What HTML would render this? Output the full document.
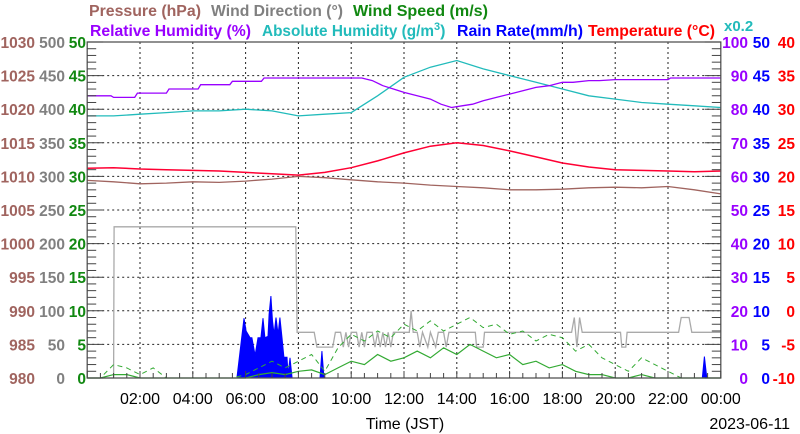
<!DOCTYPE html>
<html><head><meta charset="utf-8"><style>
html,body{margin:0;padding:0;background:#fff;}
svg{display:block;font-family:"Liberation Sans",sans-serif;}
</style></head><body>
<svg id="chart" width="800" height="434" viewBox="0 0 800 434" xmlns="http://www.w3.org/2000/svg">
<g id="grid"></g>
<g id="series"></g>
<g id="axes"></g>
<g font-weight="bold" font-size="16">
<text x="89" y="16" fill="#a0645f" textLength="112" lengthAdjust="spacingAndGlyphs">Pressure (hPa)</text>
<text x="211" y="16" fill="#808080" textLength="132" lengthAdjust="spacingAndGlyphs">Wind Direction (°)</text>
<text x="353" y="16" fill="#118811" textLength="135" lengthAdjust="spacingAndGlyphs">Wind Speed (m/s)</text>
<text x="90" y="36" fill="#9900ff" textLength="161" lengthAdjust="spacingAndGlyphs">Relative Humidity (%)</text>
<text x="262" y="36" fill="#22bbbb"><tspan textLength="172" lengthAdjust="spacingAndGlyphs">Absolute Humidity (g/m</tspan><tspan font-size="11" dy="-6">3</tspan><tspan dy="6">)</tspan></text>
<text x="457" y="36" fill="#0000ff" textLength="126" lengthAdjust="spacingAndGlyphs">Rain Rate(mm/h)</text>
<text x="588" y="36" fill="#ff0000" textLength="127" lengthAdjust="spacingAndGlyphs">Temperature (°C)</text>
<text x="724" y="31" fill="#22bbbb" font-size="15">x0.2</text>
</g>
<text x="405" y="429" font-size="16" text-anchor="middle">Time (JST)</text>
<text x="790" y="429" font-size="16" text-anchor="end">2023-06-11</text>
</svg>
<script>
const hours=[0,1,2,3,4,5,6,7,8,9,10,11,12,13,14,15,16,17,18,19,20,21,22,23,24];
const tempVals=[21.2,21.3,21.1,21.0,20.9,20.8,20.6,20.4,20.2,20.6,21.3,22.3,23.5,24.5,25.0,24.6,23.8,22.9,22.0,21.4,21.0,20.9,20.8,20.7,20.8];
const pressVals=[1009.4,1009.2,1008.9,1009.0,1009.2,1009.1,1009.3,1009.6,1010.0,1009.8,1009.5,1009.2,1009.0,1008.7,1008.5,1008.3,1008.0,1008.0,1008.1,1008.3,1008.4,1008.3,1008.5,1008.0,1007.4];
const rhTimes=[0,0.9,1.0,1.8,1.9,3.0,3.1,4.2,4.3,5.4,5.5,6.6,6.7,10.4,10.8,11.2,11.6,12.0,12.5,13.0,13.4,13.8,14.2,14.6,15.0,15.5,16.0,16.5,17.0,17.5,18.0,18.4,19.0,19.4,20.0,22.0,22.1,24];
const rhVals=[84.0,84.0,83.5,83.5,84.8,84.8,86.0,86.0,87.3,87.3,88.3,88.3,89.3,89.3,88.5,87.0,86.0,85.0,84.0,83.0,81.5,80.5,81.0,81.5,82.5,83.5,84.5,85.5,86.5,87.0,88.0,88.0,88.5,88.5,88.8,88.8,89.3,89.3];
const ahVals=[15.6,15.6,15.7,15.8,15.9,15.9,16.0,15.9,15.6,15.7,15.8,16.8,17.9,18.5,18.9,18.4,18.0,17.6,17.2,16.8,16.6,16.4,16.3,16.2,16.1];
const halfHours=[0,0.5,1,1.5,2,2.5,3,3.5,4,4.5,5,5.5,6,6.5,7,7.5,8,8.5,9,9.5,10,10.5,11,11.5,12,12.5,13,13.5,14,14.5,15,15.5,16,16.5,17,17.5,18,18.5,19,19.5,20,20.5,21,21.5,22,22.5,23,23.5,24];
const wsAvg=[0,0,0.5,0.5,0,0,0,0,0,0,0,0,0,0.5,0.8,0.5,1.0,1.2,0.5,1.5,2.5,2.0,3.5,2.5,3.0,4.0,3.0,4.5,3.5,5.0,4.0,3.0,3.5,2.0,2.5,1.5,2.0,1.0,0.5,0.5,0,0,0.5,0,0,0,0,0,0];
const wsGust=[0,0,2,1.5,0.5,1.5,0,0,0,0,0,0,0.5,1.5,2.5,1.5,2.5,3.5,1.0,4.5,6.5,5.5,7,6,8,7,8.5,7,8,9,7.5,8,6.5,7,5.5,6.5,6,4,5,3,2,1,3,2,1,0,0,0,0];
const wdTimes=[0,1.0,1.02,7.9,7.95,8.6,8.7,9.3,9.4,9.6,9.7,9.8,9.9,10.0,10.2,10.3,10.4,10.5,10.6,10.8,10.9,11.0,11.1,11.2,11.3,11.4,11.5,11.6,12.2,12.27,12.35,12.5,12.6,12.7,12.9,13.0,13.2,13.3,13.5,13.6,13.7,14.7,14.75,15.0,15.05,18.35,18.45,18.55,18.65,18.75,18.85,20.2,20.25,20.4,20.45,22.4,22.5,22.8,22.9,24];
const wdVals=[0,0,225,225,68,68,46,46,68,68,46,68,46,68,68,46,68,46,68,68,46,68,46,68,46,68,46,68,68,100,68,68,46,68,46,68,46,68,68,46,68,68,46,46,68,68,90,46,90,68,68,68,46,46,68,68,90,90,68,68];
const rainTimes=[0,5.67,5.94,6.02,6.17,6.24,6.36,6.47,6.58,6.66,6.73,6.85,6.89,6.96,7.02,7.08,7.15,7.23,7.30,7.38,7.45,7.57,7.61,7.68,7.76,8.82,8.89,8.97,23.3,23.38,23.47,24];
const rainVals=[0,0,8.9,7,6,6,3.4,6,6,8.9,6,6.2,9.5,12.2,8.5,6.5,9,6.5,9,6,3.1,3.1,0.5,3,0,0,4,0,0,3.2,0,0];
const timeLabels=["02:00","04:00","06:00","08:00","10:00","12:00","14:00","16:00","18:00","20:00","22:00","00:00"];
const pressTicks=[980,985,990,995,1000,1005,1010,1015,1020,1025,1030];
const wdTicks=[0,50,100,150,200,250,300,350,400,450,500];
const wsTicks=[0,5,10,15,20,25,30,35,40,45,50];
const rhTicks=[0,10,20,30,40,50,60,70,80,90,100];
const rainTicks=[0,5,10,15,20,25,30,35,40,45,50];
const tempTicks=[-10,-5,0,5,10,15,20,25,30,35,40];

const L=87.2,R=720.8,T=42,B=378,H=B-T;
const X=t=>L+t*(R-L)/24;
const yFrac=f=>B-f*H;
const yP=p=>yFrac((p-980)/50), yD=v=>yFrac(v/500), yS=v=>yFrac(v/50);
const yRH=v=>yFrac(v/100), yAH=v=>yRH(v/0.2), yRain=v=>yFrac(v/50), yT=v=>yFrac((v+10)/50);
const NS="http://www.w3.org/2000/svg";
function mk(tag,attrs,parent){const e=document.createElementNS(NS,tag);for(const k in attrs)e.setAttribute(k,attrs[k]);parent.appendChild(e);return e;}
const grid=document.getElementById('grid'),series=document.getElementById('series'),axes=document.getElementById('axes');

for(let i=1;i<12;i++){const x=X(i*2);
 const g=mk('line',{x1:x,x2:x,y1:T,y2:B,stroke:'#222','stroke-width':1,'stroke-dasharray':'2,3'},grid);
 
 }
for(let i=1;i<10;i++){const y=yFrac(i/10);
 const g=mk('line',{x1:L,x2:R,y1:y,y2:y,stroke:'#222','stroke-width':1,'stroke-dasharray':'2,3'},grid);
 
 }

function path(ts,vs,yf){return ts.map((t,i)=>(i?'L':'M')+X(t).toFixed(1)+','+yf(vs[i]).toFixed(1)).join('');}

const ra=mk('path',{d:path(rainTimes,rainVals,yRain)+'L'+X(24)+','+B+'L'+X(0)+','+B+'Z',fill:'#0000ff',stroke:'#0000ff','stroke-width':1},series);


const wd=mk('path',{d:path(wdTimes,wdVals,yD),fill:'none',stroke:'#aaaaaa','stroke-width':1.3},series);


const wg=mk('path',{d:path(halfHours,wsGust,yS),fill:'none',stroke:'#33aa33','stroke-width':1,'stroke-dasharray':'5,4'},series);


const wa=mk('path',{d:path(halfHours,wsAvg,yS),fill:'none',stroke:'#33aa33','stroke-width':1.2},series);


const pl=mk('path',{d:path(hours,pressVals,yP),fill:'none',stroke:'#a0645f','stroke-width':1.3},series);


const al=mk('path',{d:path(hours,ahVals,yAH),fill:'none',stroke:'#22bbbb','stroke-width':1.3},series);


const rl=mk('path',{d:path(rhTimes,rhVals,yRH),fill:'none',stroke:'#9900ff','stroke-width':1.3},series);


const tl=mk('path',{d:path(hours,tempVals,yT),fill:'none',stroke:'#ff0033','stroke-width':1.5},series);



const fr=mk('rect',{x:L,y:T,width:R-L,height:H,fill:'none',stroke:'#555','stroke-width':1.3},axes);


for(let i=0;i<=50;i++){const y=yFrac(i/50),len=i%5===0?16:9;
 const a=mk('line',{x1:L,x2:L+len,y1:y,y2:y,stroke:'#444','stroke-width':1},axes);
 
 
 const b=mk('line',{x1:R-len,x2:R,y1:y,y2:y,stroke:'#444','stroke-width':1},axes);
 
 }
for(let i=0;i<=48;i++){const x=X(i/2),len=i%4===0?7:5;
 const a=mk('line',{x1:x,x2:x,y1:B,y2:B-len,stroke:'#444','stroke-width':1},axes);
 
 }
function lbl(x,y,txt,fill,anchor,name,size,bold){
 const t=mk('text',{x:x,y:y,fill:fill,'text-anchor':anchor,'font-size':size,'font-weight':bold?'bold':'normal'},axes);
 t.textContent=txt;
 
 }
for(let i=0;i<=10;i++){const y=yFrac(i/10)+6;
 lbl(35,y,String(pressTicks[i]),'#a0645f','end','pressure-tick-label',15.5,true);
 lbl(65,y,String(wdTicks[i]),'#808080','end','wind-direction-tick-label',15.5,true);
 lbl(86,y,String(wsTicks[i]),'#118811','end','wind-speed-tick-label',15.5,true);
 lbl(748,y,String(rhTicks[i]),'#9900ff','end','humidity-tick-label',15.5,true);
 lbl(770,y,String(rainTicks[i]),'#0000ff','end','rain-tick-label',15.5,true);
 lbl(795,y,String(tempTicks[i]),'#ff0000','end','temperature-tick-label',15.5,true);}
timeLabels.forEach((s,i)=>lbl(X((i+1)*2),404,s,'#000','middle','time-tick-label',16,false));
</script>
</body></html>
